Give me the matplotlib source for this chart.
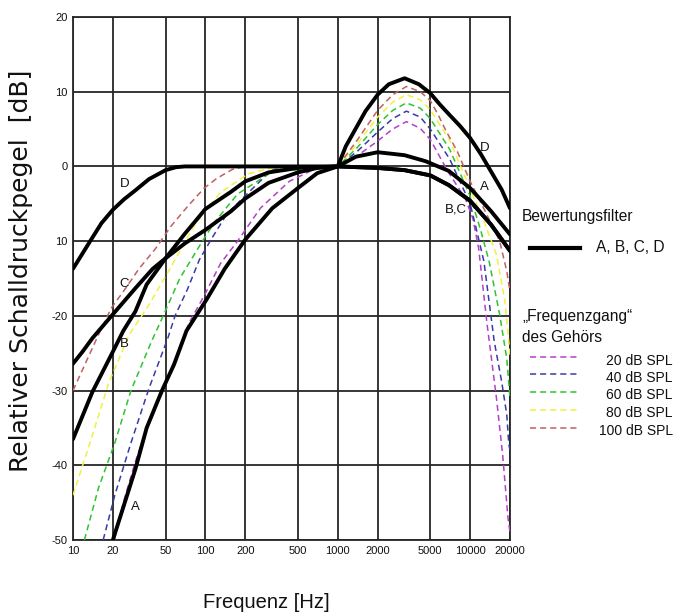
import matplotlib
matplotlib.use("Agg")
import matplotlib.pyplot as plt
from matplotlib.lines import Line2D
from matplotlib.ticker import FixedLocator, FixedFormatter, NullLocator

# ---------------- data ----------------
x_ticks = [10, 20, 50, 100, 200, 500, 1000, 2000, 5000, 10000, 20000]
x_tick_labels = ["10", "20", "50", "100", "200", "500", "1000", "2000", "5000", "10000", "20000"]
y_ticks = [20, 10, 0, -10, -20, -30, -40, -50]
y_tick_labels = ["20", "10", "0", "10", "-20", "-30", "-40", "-50"]

# weighting filters (black)
A_f = [20, 24.3, 29.6, 36, 47, 58, 72, 103, 140, 200, 320, 500, 700, 1000, 1370, 2000,
       2540, 3200, 4600, 6900, 10000, 14400, 20000]
A_db = [-50, -45.3, -40.5, -35, -30, -26.5, -22, -17.7, -13.7, -9.8, -5.6, -2.9, -0.9, 0, 1.3, 1.9,
        1.7, 1.5, 0.7, -0.6, -2.9, -6.0, -9.1]

B_f = [10, 14, 20, 24, 29.6, 36, 50, 70, 87, 100, 156, 200, 300, 500, 1000,
       2000, 3200, 5000, 6900, 10000, 14400, 20000]
B_db = [-36.5, -30.2, -24.8, -22, -19.4, -15.8, -12.3, -9.0, -7.0, -5.7, -3.4, -2.0, -0.8, -0.2, 0,
        -0.2, -0.5, -1.2, -2.5, -4.6, -7.8, -11.3]

C_f = [10, 11.8, 14, 20, 29.6, 40, 50, 70, 87, 100, 156, 200, 300, 500, 700, 1000,
       2000, 3200, 5000, 6900, 10000, 14400, 20000]
C_db = [-26.4, -24.8, -23, -19.8, -16.3, -13.7, -12.3, -10.3, -9.2, -8.5, -6.0, -4.3, -2.2, -0.8, -0.2, 0,
        -0.2, -0.5, -1.2, -2.5, -4.6, -7.8, -11.3]

D_f = [10, 13.7, 16.4, 20, 24.3, 29.6, 37.5, 50, 60, 70, 1000, 1150, 1370, 1620, 2000, 2430,
       3200, 4100, 5000, 5900, 6900, 8400, 10000, 12000, 14400, 17300, 20000]
D_db = [-13.7, -9.8, -7.6, -5.8, -4.4, -3.2, -1.7, -0.5, -0.1, 0, 0, 2.7, 5.1, 7.4, 9.6, 11.0,
        11.8, 11.0, 9.8, 8.3, 7.0, 5.4, 3.8, 1.7, -0.7, -3.1, -5.6]

# inverted equal-loudness contours (dashed)
spl_labels = ["20 dB SPL", "40 dB SPL", "60 dB SPL", "80 dB SPL", "100 dB SPL"]

p20_f = [20.5, 24, 29, 36, 48, 60, 75, 100, 130, 175, 260, 430, 660, 1000, 1400, 2000, 2600, 3300,
         4200, 5000, 6800, 9200, 10500, 11600, 13400, 15800, 17600, 19300, 20000]
p20_db = [-50, -45, -40, -35, -30, -25.5, -21, -17, -13, -10, -5.6, -2, -0.4, 0, 1.4, 3.4, 5.0, 6.0,
          5.1, 3.6, -0.7, -4.3, -7, -11, -21, -31, -38.6, -47, -49]

p40_f = [16.9, 20.7, 27.4, 37.5, 52, 59, 73, 90, 112, 145, 190, 320, 1000, 1400, 2000, 2600, 3300,
         4200, 5000, 7000, 10000, 11000, 12700, 15200, 17300, 18900, 19600, 20000]
p40_db = [-50, -44, -37, -29.7, -23, -20, -16.5, -12.5, -9.6, -6.4, -4.3, -0.4, 0, 2.0, 4.6, 6.4, 7.4,
          6.6, 5.0, 1.0, -5.0, -8.0, -12.7, -23.4, -28.8, -33.2, -37.2, -38]

p60_f = [12.2, 15.6, 20.7, 27.4, 39, 48, 64, 95, 118, 175, 320, 1000, 1400, 2000, 2600, 3300,
         4200, 5000, 7000, 10000, 12000, 13900, 16700, 18900, 20000]
p60_db = [-50, -43, -37, -30, -23.5, -20, -15, -10, -7.4, -3.7, -0.7, 0, 2.5, 5.6, 7.5, 8.5,
          7.8, 6.4, 2.3, -4.0, -8.5, -12.7, -19.8, -25.7, -31]

p80_f = [10, 14, 18.6, 26.6, 32, 39, 54, 80, 95, 130, 210, 300, 1000, 1400, 2000, 2600, 3300,
         4200, 5000, 7000, 10000, 12500, 15800, 18300, 20000]
p80_db = [-44, -36, -29, -22.5, -20.4, -18, -13.7, -8.3, -6.4, -3.5, -1.0, -0.3, 0, 3.0, 6.6, 8.6, 9.6,
          8.9, 7.6, 3.5, -3.0, -7.0, -11.8, -18, -25.2]

p100_f = [10, 15.6, 19.4, 25, 31.5, 42, 55, 73, 98, 122, 160, 200, 1000, 1400, 2000, 2600, 3300,
          4200, 5000, 5700, 6600, 8000, 10000, 13000, 16700, 18900, 20000]
p100_db = [-30, -22.5, -19, -16.3, -13.7, -11, -8, -5.4, -2.9, -1.6, -0.4, 0, 0, 3.5, 7.5, 9.6, 10.7,
           10.0, 8.8, 7.0, 4.7, 2.0, -2.0, -6.0, -10, -14, -16.7]

# curve labels: (text, frequency, dB)
curve_labels = [("D", 24.4, -2.4), ("C", 24.3, -15.7), ("B", 24.4, -23.8), ("A", 29.7, -45.6),
                ("D", 12900, 2.5), ("A", 12900, -2.8), ("B,C", 7770, -5.8)]

# ---------------- styles ----------------
spl_colors = ["#b540c8", "#3a3aa8", "#2fc42f", "#f0f040", "#c06060"]
arial = ["Liberation Sans", "DejaVu Sans"]

W, H = 682, 616
fig = plt.figure(figsize=(W / 100, H / 100), dpi=100)
fig.patch.set_facecolor("white")
ax = fig.add_axes([73 / W, 1 - 540 / H, 437 / W, 523 / H])

ax.set_xscale("log")
ax.set_xlim(10, 20000)
ax.set_ylim(-50, 20)

grid_col = "#262626"
ax.xaxis.set_major_locator(FixedLocator(x_ticks))
ax.xaxis.set_major_formatter(FixedFormatter(x_tick_labels))
ax.xaxis.set_minor_locator(NullLocator())
ax.yaxis.set_major_locator(FixedLocator(y_ticks))
ax.yaxis.set_major_formatter(FixedFormatter(y_tick_labels))
ax.tick_params(axis="both", length=0, pad=4, labelsize=8, colors="#111111")
for lab in ax.get_xticklabels() + ax.get_yticklabels():
    lab.set_family(arial)
ax.grid(True, color=grid_col, lw=1.3)
for s in ax.spines.values():
    s.set_color(grid_col)
    s.set_linewidth(1.3)
ax.set_axisbelow(True)

dashed_sets = [(p20_f, p20_db), (p40_f, p40_db), (p60_f, p60_db), (p80_f, p80_db), (p100_f, p100_db)]
for (f, d), c in zip(dashed_sets, spl_colors):
    ax.plot(f, d, color=c, lw=1.1, dashes=(4, 2.6), zorder=3)

for f, d in [(A_f, A_db), (B_f, B_db), (C_f, C_db), (D_f, D_db)]:
    ax.plot(f, d, color="black", lw=2.8, zorder=4, solid_joinstyle="round", solid_capstyle="round")

for t, fx_, dy in curve_labels:
    ax.text(fx_, dy, t, fontsize=9.5, family=arial, ha="center", va="center", color="#111111", zorder=5)

# ---------------- labels ----------------
fig.text(21 / W, 1 - 271 / H, "Relativer Schalldruckpegel  [dB]", rotation=90,
         ha="center", va="center", fontsize=18, family=["DejaVu Sans"], color="#111111")
fig.text(266 / W, 1 - 602 / H, "Frequenz [Hz]", ha="center", va="center",
         fontsize=14.5, family=arial, color="#111111")

# ---------------- legend ----------------
def fyy(py):
    return 1 - py / H

fig.text(522 / W, fyy(217), "Bewertungsfilter", ha="left", va="center", fontsize=11.2,
         family=arial, color="#111111")
fig.add_artist(Line2D([530 / W, 580 / W], [fyy(248)] * 2, transform=fig.transFigure,
                      color="black", lw=3))
fig.text(596 / W, fyy(248), "A, B, C, D", ha="left", va="center", fontsize=11.2,
         family=arial, color="#111111")
fig.text(522 / W, fyy(316), "\u201eFrequenzgang\u201c", ha="left", va="center", fontsize=11.2,
         family=arial, color="#111111")
fig.text(522 / W, fyy(338), "des Gehörs", ha="left", va="center", fontsize=11.2,
         family=arial, color="#111111")
key_y = [357, 374, 392, 410, 428]
txt_y = [361, 378, 395, 413, 431]
for ky, ty, c, lab in zip(key_y, txt_y, spl_colors, spl_labels):
    fig.add_artist(Line2D([530 / W, 580 / W], [fyy(ky)] * 2, transform=fig.transFigure,
                          color=c, lw=1.1, dashes=(4, 2.6)))
    fig.text(673 / W, fyy(ty), lab, ha="right", va="center", fontsize=10,
             family=arial, color="#111111")

fig.savefig("out.png", dpi=100, facecolor="white")
